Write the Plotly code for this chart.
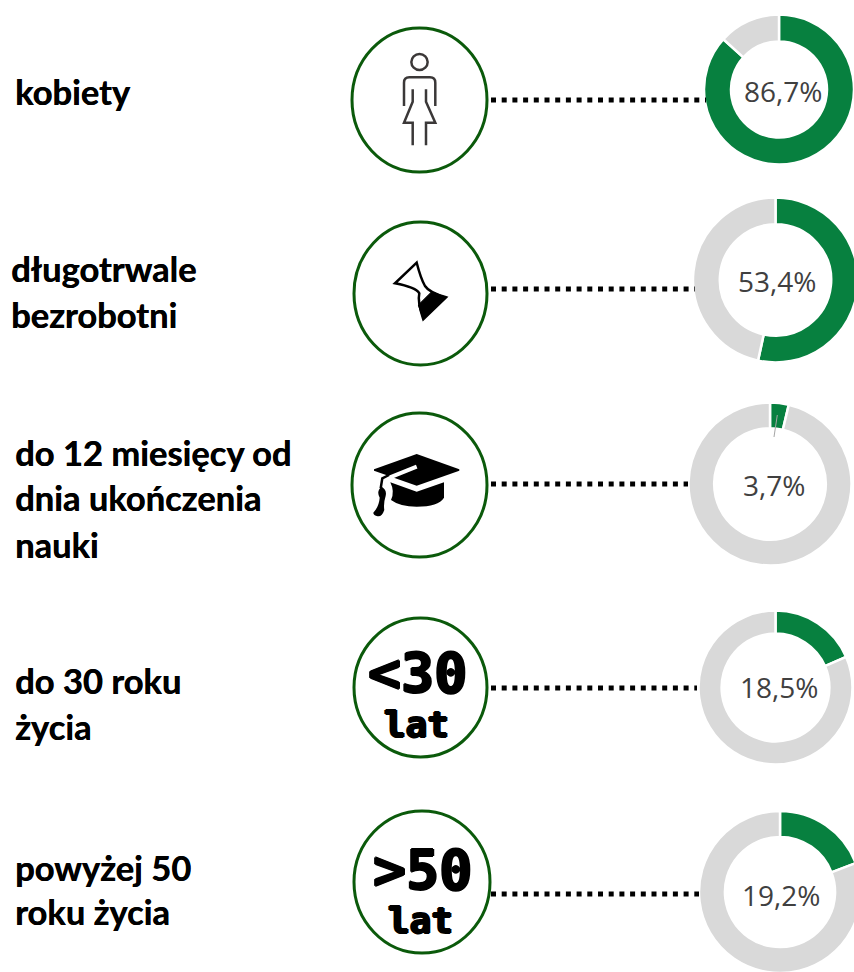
import plotly.graph_objects as go

# --- data -------------------------------------------------------------
shares = [86.7, 53.4, 3.7, 18.5, 19.2]
rest = [13.3, 46.6, 96.3, 81.5, 80.8]
value_labels = ["86,7%", "53,4%", "3,7%", "18,5%", "19,2%"]
categories = ["kobiety", "długotrwale bezrobotni", "do 12 miesięcy od dnia ukończenia nauki",
              "do 30 roku życia", "powyżej 50 roku życia"]
label_lines = [
    [("kobiety", 13, 91)],
    [("długotrwale", 9, 268), ("bezrobotni", 9, 314)],
    [("do 12 miesięcy od", 13, 452), ("dnia ukończenia", 13, 497), ("nauki", 13, 544)],
    [("do 30 roku", 13, 680), ("życia", 13, 726)],
    [("powyżej 50", 13, 867), ("roku życia", 13, 911)],
]
# --- layout -----------------------------------------------------------
W, H = 870, 985
GREEN, GREY, RING = "#07803F", "#D9D9D9", "#0B5A0B"
donut_cx = [779, 775.5, 770, 775.5, 780]
donut_cy = [89.5, 280, 484, 687.5, 892]
donut_d = [150, 165, 163, 154, 162]
donut_hole = [0.64, 0.675, 0.685, 0.70, 0.68]
label_xy = [(783, 91), (777, 281), (774, 485), (779, 687), (780.5, 895)]
rings = [(352, 28, 487, 172), (354, 222, 487, 365), (352, 413, 487, 557),
         (354, 618, 487, 757), (354, 811, 490, 953)]
dots = [(491, 706, 100), (491, 695, 289), (491, 688, 484), (491, 697, 688), (491, 699, 894)]

fig = go.Figure()
for i in range(5):
    r = donut_d[i] / 2
    fig.add_trace(go.Pie(
        values=[shares[i], rest[i]], labels=["udział", "pozostali"], name=categories[i],
        hole=donut_hole[i], sort=False, direction="clockwise", rotation=0,
        marker=dict(colors=[GREEN, GREY], line=dict(color="white", width=2.5)),
        textinfo="none", showlegend=False,
        domain=dict(x=[(donut_cx[i] - r) / W, (donut_cx[i] + r) / W],
                    y=[1 - (donut_cy[i] + r) / H, 1 - (donut_cy[i] - r) / H]),
    ))

shapes, annotations = [], []
for x0, y0, x1, y1 in rings:
    shapes.append(dict(type="circle", xref="x", yref="y", x0=x0, y0=y0, x1=x1, y1=y1,
                       line=dict(color=RING, width=3), fillcolor="white"))
for x0, x1, y in dots:
    shapes.append(dict(type="line", xref="x", yref="y", x0=x0, x1=x1, y0=y, y1=y,
                       line=dict(color="black", width=5, dash="5px,5.7px")))


def zx(v):
    return 340 + v / 3


def zy(v, off=0):
    return off + v / 3


def poly(points, off=0, close=False):
    s = "M" + " L".join(f"{zx(a):.1f},{zy(b, off):.1f}" for a, b in points)
    return s + (" Z" if close else "")


def path(d, color=None, fill=None, width=2):
    shapes.append(dict(type="path", xref="x", yref="y", path=d,
                       line=dict(color=color or "rgba(0,0,0,0)", width=width),
                       fillcolor=fill or "rgba(0,0,0,0)"))


def crop_path(spec, ox, oy):
    """spec: list of (command, [x, y, ...]) in 3x crop pixels with origin ox, oy"""
    out = []
    for cmd, nums in spec:
        pts = [f"{ox + nums[k] / 3:.1f},{oy + nums[k + 1] / 3:.1f}" for k in range(0, len(nums), 2)]
        out.append(cmd + " ".join(pts))
    return " ".join(out) + " Z"


# woman icon
INK = "#3B3838"
shapes.append(dict(type="circle", xref="x", yref="y", x0=zx(214), x1=zx(263), y0=zy(162), y1=zy(210),
                   line=dict(color=INK, width=2.5)))
path(f"M{zx(192):.1f},{zy(318):.1f} L{zx(192):.1f},{zy(248):.1f} Q{zx(192):.1f},{zy(232):.1f} {zx(208):.1f},{zy(232):.1f} "
     f"L{zx(270):.1f},{zy(232):.1f} Q{zx(286):.1f},{zy(232):.1f} {zx(286):.1f},{zy(248):.1f} L{zx(286):.1f},{zy(318):.1f}", INK, None, 2.5)
path(poly([(218, 268), (218, 305), (192, 368), (218, 368), (218, 436)]), INK, None, 2.5)
path(poly([(258, 268), (258, 305), (286, 368), (258, 368), (258, 436)]), INK, None, 2.5)

# hourglass icon (crop origin 380,250)
path(crop_path([("M", [110, 38]), ("L", [45, 100]), ("Q", [108, 112, 118, 130]), ("Q", [112, 155, 130, 208]),
                ("L", [198, 142]), ("Q", [148, 128, 135, 108]), ("Q", [122, 85, 110, 38])], 380, 250),
     "black", "white", 2.5)
path(crop_path([("M", [155, 125]), ("L", [198, 142]), ("L", [130, 208]), ("L", [115, 165])], 380, 250),
     "black", "black", 1)

# graduation cap icon (crop origin 365,445)
path(crop_path([("M", [155, 27]), ("L", [283, 73]), ("L", [283, 77]), ("L", [155, 122]), ("L", [27, 77]), ("L", [27, 73])], 365, 445),
     None, "black", 0)
path("M" + " L".join(f"{365 + a / 3:.1f},{445 + b / 3:.1f}" for a, b in [(155, 65), (75, 97), (60, 104)]), "white", None, 4)
path(crop_path([("M", [76, 112]), ("L", [155, 140]), ("L", [237, 112]), ("L", [237, 158]), ("Q", [220, 185, 155, 185]),
                ("Q", [105, 185, 78, 165]), ("Q", [90, 140, 76, 112])], 365, 445), None, "black", 0)
path("M" + " L".join(f"{365 + a / 3:.1f},{445 + b / 3:.1f}" for a, b in [(72, 90), (52, 100), (47, 130)]), "black", None, 2.5)
path(crop_path([("M", [50, 125]), ("Q", [66, 135, 62, 152]), ("Q", [55, 175, 58, 195]), ("Q", [50, 218, 35, 213]),
                ("Q", [25, 210, 25, 203]), ("Q", [42, 185, 44, 158]), ("Q", [33, 138, 50, 125])], 365, 445), None, "black", 0)

# thin leader line inside the small slice
shapes.append(dict(type="line", xref="x", yref="y", x0=777.3, y0=415, x1=774, y1=437,
                   line=dict(color="#A6A6A6", width=1), layer="above"))

for i, (x, y) in enumerate(label_xy):
    annotations.append(dict(text=value_labels[i], x=x, y=y, xref="x", yref="y", showarrow=False,
                            font=dict(family="Open Sans", size=28, color="#404040")))
for group in label_lines:
    for text, x, y in group:
        annotations.append(dict(text=text, x=x, y=y, xref="x", yref="y", showarrow=False,
                                xanchor="left",
                                font=dict(family="Lato", size=34.5, color="black", weight="bold",
                                          shadow="0.4px 0 0 black")))
BOLD = "1.2px 0 0 black, -1.2px 0 0 black, 0 1.2px 0 black, 0 -1.2px 0 black"
for text, x, y, size in [("&lt;30", 417.5, 673, 55), ("lat", 416, 724, 36), ("&gt;50", 422, 870, 55), ("lat", 420, 920, 36)]:
    annotations.append(dict(text=text, x=x, y=y, xref="x", yref="y", showarrow=False,
                            font=dict(family="DejaVu Sans Mono", size=size, color="black", weight="bold", shadow=BOLD)))

fig.update_layout(
    width=W, height=H, margin=dict(l=0, r=0, t=0, b=0), paper_bgcolor="white", plot_bgcolor="rgba(0,0,0,0)",
    showlegend=False, shapes=shapes, annotations=annotations,
    xaxis=dict(range=[0, W], visible=False, fixedrange=True),
    yaxis=dict(range=[H, 0], visible=False, fixedrange=True),
)
fig.add_trace(go.Scatter(x=[None], y=[None], showlegend=False, hoverinfo="skip"))
fig.write_html("out.html", config=dict(displayModeBar=False),
               post_script="document.documentElement.style.overflow='hidden';document.body.style.margin='0';document.body.style.overflow='hidden';")
